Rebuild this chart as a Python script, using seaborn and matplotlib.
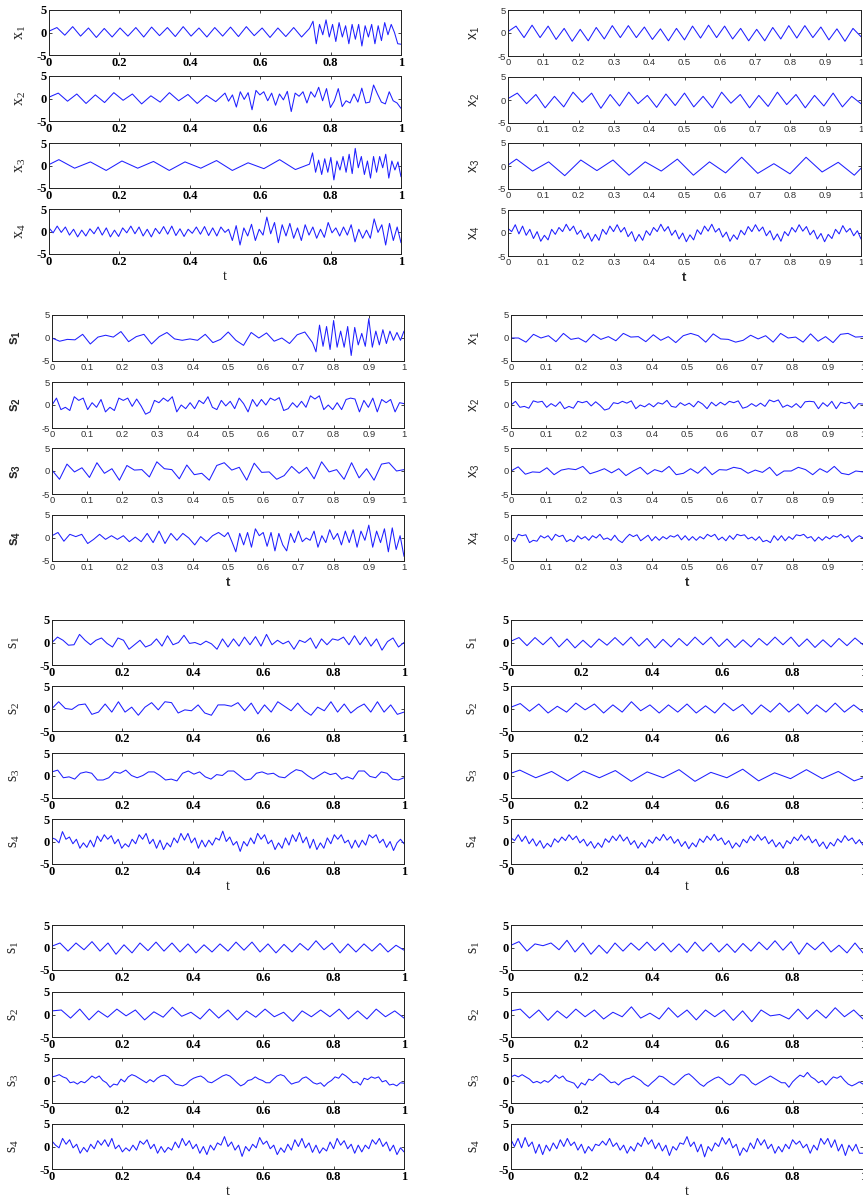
import numpy as np
import matplotlib
matplotlib.use('Agg')
import matplotlib.pyplot as plt
import seaborn as sns

sns.set_style('white')
plt.rcParams['axes.unicode_minus'] = False

# ---- signal data: values (turning points) ----
# each signal is a list of (t_start, t_end, values) segments

# panel A (top left): x1..x4
A_x1_a = [0.3, 1.1, -0.6, 1.3, -0.8, 1.0, -1.1, 0.9, -1.0, 1.0, -0.8, 1.1, -1.0, 1.2, -0.7, 1.1, -0.9,
          1.3, -0.8, 1.0, -1.0, 1.1, -0.8, 1.2, -0.9, 1.3, -0.7, 1.0, -1.1, 1.0, -0.9, 1.1, -1.0, 0.9]
A_x1_b = [2.5, -2.5, 1.8, -0.5, 2.8, -1.0, 1.8, -2.0, 2.2, -1.0, 1.5, -2.5, 1.8, -1.5, 1.8, -3.0, 1.5,
          -1.0, 1.8, -2.5, 1.5, -1.8, 2.2, -0.5, 1.8, 0.0, -2.5, -2.6]
A_x2_a = [0.3, 1.2, -0.6, 1.0, -1.1, 0.8, -0.9, 1.3, -0.4, 1.0, -1.2, 0.6, -0.8, 1.3, -0.5, 0.9, -1.1,
          0.7, -0.7, 1.2]
A_x2_b = [-0.6, 0.8, -1.9, 1.5, -0.2, 1.3, -2.5, 1.8, 0.8, 1.5, -0.5, 1.2, -1.5, 1.0, -0.3, 1.6, -2.9,
          1.2, 0.5, 1.5, -1.0, 1.5, 0.3, 2.5, -0.5, 2.2, -2.0, -0.5, 2.2, -1.8, -0.5, -1.0, 1.0, -0.8,
          2.3, -1.0, -0.8, 3.0, 1.0, -0.8, -1.2, 1.5, -0.5, -1.0, -2.2]
A_x3_a = [1.3, -0.6, 0.8, -1.1, 1.0, -0.6, 0.9, -1.1, 0.8, -0.6, 1.1, -1.1, 0.6, -0.7, 1.3, -0.9]
A_x3_b = [0.3, 2.8, -1.5, 1.2, -2.0, 1.5, -1.5, 1.8, -3.2, 1.0, -1.0, 2.0, -1.5, 2.5, -1.8, 3.8, -0.5,
          2.0, -2.0, 1.0, -2.8, 2.0, -1.5, 2.0, -0.5, 2.5, -2.8, 1.0, -1.0, 0.8, -2.5]
A_x4_a = [0.8, -0.3, 1.2, -0.2, 1.0, -0.8, 0.5, -1.2, 0.3, -1.0, 0.6, -0.5, 1.0, -0.8, 0.8, -1.2, 0.3,
          -1.1, 0.8, -0.3, 1.2, -0.5, 1.0, -1.0, 0.5, -1.2, 0.7, -0.5, 1.1, -0.6, 1.2, -0.9, 0.6, -1.1,
          0.5, -0.4, 1.0, -0.6, 1.1, -0.9, 0.8, -1.0, 1.0, -0.2]
A_x4_b = [0.5, -2.0, 1.3, -3.0, 0.8, -1.0, 1.6, -2.0, 0.5, -0.8, 3.2, -0.5, 2.0, -2.5, 1.5, -1.0, 1.8,
          -1.5, 0.8, -2.0, 1.5, -0.8, 1.0, -1.5, 0.5, -1.3, 2.0, -0.3, 0.8, -1.0, 1.0, -0.8, 1.5, -2.3,
          0.5, -1.5, 0.3, -1.5, 2.8, -0.2, 1.5, -3.0, 1.8, -2.0, 1.0, -2.5]

# panel B (top right): x1..x4
B_x1 = [0.3, 1.5, -1.0, 1.7, -1.0, 1.5, -1.4, 1.0, -1.8, 0.8, -1.7, 1.2, -1.3, 1.6, -1.0, 1.6, -1.0,
        1.3, -1.4, 0.9, -1.7, 1.0, -1.5, 1.5, -1.1, 1.7, -1.0, 1.5, -1.3, 1.0, -1.7, 0.8, -1.7, 1.2,
        -1.3, 1.6, -1.1, 1.6, -1.0, 1.3, -1.5, 0.9, -1.8, 1.0, -0.8]
B_x2 = [0.3, 1.5, -0.8, 1.2, -1.7, 0.8, -1.5, 1.7, -0.5, 1.5, -1.8, 1.2, -1.3, 1.7, -0.8, 1.0, -1.6,
        1.3, -1.2, 1.5, -1.5, 0.8, -1.7, 1.7, -0.7, 1.2, -1.7, 1.0, -1.4, 1.7, -1.0, 1.2, -1.7, 1.0,
        -1.3, 1.5, -1.5, 0.8, -0.8]
B_x3 = [1.5, -1.1, 0.9, -2.1, 1.3, -1.0, 1.3, -2.0, 0.9, -1.1, 1.5, -2.0, 0.9, -1.5, 1.9, -1.6, 0.5,
        -1.7, 1.9, -1.3, 0.8, -2.0]
B_x4 = [1.0, 0.3, 1.8, -0.2, 1.5, -0.5, 0.8, -1.2, 0.3, -1.8,
        -0.5, -1.5, 0.8, -0.3, 1.2, 0.3, 1.9, 0.5, 1.5, -0.3, 0.6,
        -1.2, 0.0, -1.8, -0.3, -1.6, 0.8, -0.3, 1.5, 0.3, 1.8,
        0.2, 1.2, -0.8, 0.3, -1.8, -0.3, -1.6, 0.5, -0.5, 1.2,
        0.3, 1.9, 0.4, 1.4, -0.5, 0.6, -1.3, 0.0, -1.9, -0.4,
        -1.5, 0.7, -0.3, 1.5, 0.4, 1.9, 0.2, 1.0, -0.9, 0.2,
        -1.8, -0.4, -1.4, 0.6, -0.4, 1.4, 0.3, 1.8, 0.4, 1.3,
        -0.6, 0.5, -1.5, -0.2, -1.8, 0.3, -0.6, 1.2, 0.2, 1.8,
        0.4, 1.4, -0.4, 0.6, -1.3, -0.1, -1.9, -0.3, -1.2, 0.8,
        -0.2, 1.6, 0.2, 1.0, -0.6, 0.5, -1.3]

# panel C (second row left): s1..s4
C_s1_a = [0.0, -0.7, -0.3, -0.4, 0.8, -1.3, 0.2, 0.6, 0.2, 1.4, -0.8, 0.3, 0.8, -1.3, 0.3, 1.2, -0.2,
          -0.5, -0.2, -0.5, 0.8, -1.0, -0.3, 1.3, -0.5, -1.6, 1.2, 0.0, 1.1, -0.7, 0.0, -1.2, 0.7, 1.3,
          -1.0]
C_s1_b = [-3.0, 2.8, -1.8, 2.5, -2.5, 3.8, -2.0, 1.5, -2.0, 2.5, -3.8, 2.3, -1.5, 1.0, -1.8, 4.2, -2.0,
          1.5, -1.5, 1.8, -1.2, 1.5, -0.5, 1.2, -0.5, 1.5]
C_s2 = [0.0, 1.5, -1.0, -0.5, -1.2, 1.8, 1.0, 1.5, -1.0, 0.5, -0.5, 1.2, -1.5, -0.5, -1.2, 1.5, 1.0,
        1.5, -0.3, 1.3, -0.2, -2.0, -1.5, 1.0, 0.5, 1.5, 0.8, 1.8, -1.5, 0.0, -0.8, 0.5, -0.8, 1.0,
        0.3, 1.8, -0.5, -1.0, 1.0, -0.2, 0.8, -0.8, 1.5, 0.3, -1.5, 1.2, -0.3, 1.2, 0.0, 1.5, 1.0,
        1.6, -1.2, -0.8, 0.5, -0.5, 0.8, -0.5, 2.0, 1.3, 2.0, -1.0, 0.0, -1.0, 0.5, -1.0, 1.2, 1.5,
        1.3, -1.5, 1.0, -0.5, 1.5, -1.5, 1.2, 0.5, 1.2, -1.5, 0.5, 0.3]
C_s3 = [0.2, -1.8, 1.5, -0.2, 0.7, -1.4, 1.8, -0.5, 0.5, -2.0, 1.2, 0.2, 0.3, -1.3, 2.0, 0.5, 0.3,
        -1.7, 1.3, -0.8, -0.5, -2.0, 1.2, 1.8, 0.2, 0.8, -2.0, 1.7, -0.3, -0.2, -1.8, -1.0, 1.0, -0.5,
        0.8, -1.7, 2.0, -0.2, 0.3, -1.8, 1.8, -1.5, 0.5, -2.0, 1.5, 1.8, 0.0, 0.3]
C_s4_a = [0.5, 1.2, -0.7, 0.8, 0.3, 0.8, -1.2, -0.3, 0.8, -0.3, 0.5, -0.3, 0.5, -0.8, 0.2, -0.8, 1.0,
          -1.0, 1.5, -1.2, 1.0, -0.5, 1.0, 0.0, -1.5, 0.3, -0.8, 0.5, 1.2, 0.3]
C_s4_b = [1.2, -0.8, -3.0, 1.0, -1.5, 1.2, -2.0, 2.0, 0.5, 1.2, -1.8, 1.2, -2.8, 1.0, -1.5, -2.8, 1.0,
          -1.0, 1.5, -0.8, 0.0, -0.5, 1.5, -2.0, 0.5, -1.0, 1.8, -0.3, 1.0, -1.5, 1.5, -1.0, 1.8, -2.0,
          1.5, -0.5, 2.8, -2.0, 1.5, -1.0, 2.0, -3.0, 2.2, -2.5, 0.5, -4.0]

# panel D (second row right): x1..x4
D_x1 = [0.0, 0.0, -0.9, 0.8, 0.0, 0.5, -0.8, 1.0, -0.3, 0.0, -0.9, 0.8, -0.3, 0.3, -0.6, 1.0, 0.2,
        0.3, -0.8, 0.7, -0.5, 0.3, -1.0, 0.5, 1.0, 0.5, -0.9, 0.9, -0.2, -0.3, -0.9, -0.5, 0.6, -0.2,
        0.5, -0.9, 1.0, 0.0, 0.2, -0.9, 0.9, -0.7, 0.3, -1.0, 0.8, 1.0, 0.2, 0.3]
D_x2 = [0.0, 0.8, -0.5, -0.3, -0.7, 0.9, 0.6, 0.8, -0.5, 0.3, -0.3, 0.7, -0.8, -0.3, -0.7, 0.8, 0.5,
        0.8, -0.2, 0.7, -0.1, -1.1, -0.8, 0.5, 0.3, 0.8, 0.4, 0.9, -0.8, 0.0, -0.4, 0.3, -0.4, 0.5,
        0.2, 1.0, -0.3, -0.5, 0.5, -0.1, 0.4, -0.4, 0.8, 0.2, -0.8, 0.6, -0.2, 0.6, 0.0, 0.8, 0.5,
        0.9, -0.7, -0.4, 0.3, -0.3, 0.4, -0.3, 1.1, 0.7, 1.1, -0.5, 0.0, -0.5, 0.3, -0.6, 0.7, 0.8,
        0.7, -0.8, 0.5, -0.3, 0.8, -0.8, 0.6, 0.3, 0.6, -0.8, 0.3, 0.2]
D_x3 = [0.0, 0.9, -0.7, -0.2, -0.3, 0.7, -0.8, 0.2, 0.5, 0.3, 1.0, -0.6, -0.1, 0.5, -0.4, 0.5, -1.0,
        0.0, 0.8, -0.7, 0.3, -0.2, 1.0, -0.8, -0.5, 0.5, -0.5, 0.9, -0.8, 0.3, 0.2, 0.8, 0.5, -0.5,
        0.2, -0.3, 0.8, -1.0, 0.0, 0.0, 0.8, 0.3, -0.8, 0.5, -0.3, 1.0, -0.5, -0.8, 0.0, -0.2]
D_x4 = [0.0, -0.8, 0.8, 0.5, 0.7, -1.0, -0.5, -0.7, 0.5, 0.0, 0.5, -0.5, 0.8, 0.3, 0.6, -0.8, -0.3,
        -0.8, 0.5, -0.2, 0.3, -0.5, 0.5, 0.0, 0.8, -0.3, 0.0, -0.5, 0.6, -0.5, -1.0, 0.0, 0.8, 0.3,
        0.7, -0.6, 0.0, 0.6, -0.6, 0.3, -0.5, 0.3, -0.2, 0.5, 0.2, 0.7, -0.4, 0.5, -0.5, 0.3, -0.5,
        0.3, -0.2, 0.8, 0.3, 0.8, -0.4, 0.2, -0.6, 0.5, -0.3, 0.8, 0.5, 0.7, -0.2, 0.2, -0.5, 0.3,
        -0.8, -0.5, -1.0, 0.5, -0.5, 0.5, -0.6, 0.3, -0.3, 0.7, 0.5, 0.8, 0.0, 0.3, -0.7, 0.2, -0.5,
        0.3, -0.2, 0.5, 0.2, 0.8, 0.0, 0.5, -0.8, 0.0, 0.5, 0.0]

# panel E (third row left): s1..s4
E_s1 = [0.0, 1.2, 0.5, -0.6, -0.5, 1.8, 0.5, -0.5, 0.5, 1.0, -0.2, -1.0, 1.0, 0.5, -1.5, -0.5, 0.5,
        -1.0, -0.5, 0.8, -0.8, 1.5, -0.5, 0.0, 1.6, -0.2, 0.0, -0.5, 0.3, -0.3, -1.5, 0.8, -1.0, 0.8,
        -0.8, 1.2, -0.5, 1.3, -0.8, 1.8, -0.5, 0.5, -0.3, 0.3, -1.5, 0.5, 0.0, 1.0, -1.3, 0.8, -0.5,
        0.8, 0.5, 1.2, -0.5, 1.5, -0.5, 1.2, -0.8, 0.8, -1.7, 0.2, 1.0, -1.0, 0.0]
E_s2 = [0.0, 1.5, 0.0, -0.2, 0.8, 1.0, -1.3, -0.8, 1.0, -0.8, 1.5, -0.8, 0.3, -1.5, 0.3, 1.3, -0.3,
        1.5, 1.3, -1.0, -0.3, -0.5, 0.8, -1.0, -1.5, 0.8, 0.8, 0.5, 1.3, -0.5, 1.2, -1.2, 0.8, -0.8,
        1.5, 0.5, -0.5, 1.2, -0.5, -1.5, 0.3, -0.5, 1.5, -0.8, 1.0, -1.0, 0.2, 1.0, -0.8, 1.5, -0.8,
        0.8, -1.3, -0.8]
E_s3 = [0.8, 1.2, -0.5, -0.3, -0.8, 0.5, 0.8, 0.5, -1.0, -1.0, -0.5, 0.8, 0.5, 1.2, 0.0, -0.5, 0.0,
        0.8, 0.8, 0.0, -1.0, -0.8, -1.2, 0.5, 1.0, 0.3, 0.8, -0.3, -0.8, 0.2, 0.0, 1.0, 1.0, 0.0,
        -1.0, -0.8, 0.5, 0.8, 0.3, 0.5, -0.3, -0.5, 0.5, 1.3, 1.0, 0.0, -0.8, 0.0, 0.8, 0.2, 0.5,
        -0.8, -0.3, -0.8, 1.0, 1.0, -0.2, -0.5, 0.8, 0.5, -0.8, -1.0, -0.5]
E_s4 = [0.8, 0.5, -0.3, 2.2, 0.5, 1.0, -0.5, 0.5, -1.5, -0.3, -1.3, 0.3, -1.2, 1.2, 0.0, 1.5, 0.5,
        1.3, -0.5, 0.5, -1.5, -0.5, -1.2, 0.5, -0.5, 1.5, 0.5, 1.8, -0.5, 0.5, -1.5, 0.3, -1.8, -0.3,
        -1.2, 0.8, -0.3, 1.8, 0.3, 1.8, -0.3, 0.8, -1.5, 0.3, -1.2, 0.3, -0.8, 0.8, 0.3, 2.3, 0.0,
        1.0, -0.8, 0.0, -2.2, 0.0, -1.0, 0.8, -0.5, 1.8, 0.5, 1.5, -0.5, 0.3, -1.8, -0.3, -1.5, 0.8,
        -0.8, 1.5, 0.0, 2.0, -0.3, 1.0, -1.5, 0.5, -1.8, -0.3, -1.5, 0.8, -0.5, 1.5, 0.5, 1.5, -0.3,
        0.3, -1.5, 0.3, -1.3, 0.3, -0.8, 1.5, 0.8, 1.5, -0.3, 0.5, -1.3, 0.0, -2.0, -0.3, 0.5, -0.5]

# panel F (third row right): s1..s4
F_s1 = [0.3, 1.1, -0.7, 1.1, -0.5, 1.2, -1.0, 0.8, -1.2, 0.5, -1.1, 0.8, -0.6, 1.1, -0.6, 1.2, -0.8,
        0.9, -1.2, 0.7, -1.0, 0.9, -0.7, 1.2, -0.5, 1.2, -0.9, 0.8, -1.1, 0.6, -1.0, 0.9, -0.6, 1.2,
        -0.5, 1.2, -0.9, 0.8, -1.1, 0.6, -1.0, 0.9, -0.7, 1.0, -0.5]
F_s2 = [0.3, 1.1, -0.6, 1.0, -1.0, 0.5, -0.8, 1.2, -0.3, 1.0, -1.0, 0.8, -0.8, 1.5, -0.5, 0.8, -1.0,
        0.8, -0.8, 1.0, -1.0, 0.6, -1.0, 1.2, -0.5, 0.9, -1.3, 0.8, -0.8, 1.2, -0.8, 1.0, -1.2, 0.8,
        -0.8, 1.2, -0.8, 0.8, -0.8]
F_s3 = [1.2, -0.5, 0.9, -1.2, 1.0, -0.5, 1.1, -1.3, 0.8, -0.5, 1.3, -1.3, 0.7, -0.5, 1.4, -1.2, 0.6,
        -0.7, 1.3, -0.7, 0.9, -1.2]
F_s4 = [0.8, 0.2, 1.5, 0.0, 1.2, -0.5, 0.6, -1.0, 0.2, -1.5,
        -0.4, -1.2, 0.6, -0.2, 1.0, 0.2, 1.5, 0.4, 1.2, -0.3, 0.5,
        -1.0, 0.0, -1.5, -0.3, -1.3, 0.6, -0.2, 1.2, 0.2, 1.5,
        0.1, 1.0, -0.7, 0.2, -1.5, -0.2, -1.3, 0.4, -0.4, 1.0,
        0.2, 1.6, 0.3, 1.1, -0.4, 0.5, -1.1, 0.0, -1.6, -0.3,
        -1.2, 0.6, -0.2, 1.2, 0.3, 1.6, 0.2, 0.8, -0.7, 0.2,
        -1.5, -0.3, -1.2, 0.5, -0.3, 1.2, 0.2, 1.5, 0.3, 1.1,
        -0.5, 0.4, -1.2, -0.2, -1.5, 0.2, -0.5, 1.0, 0.2, 1.5,
        0.3, 1.2, -0.3, 0.5, -1.1, -0.1, -1.6, -0.2, -1.0, 0.6,
        -0.2, 1.3, 0.2, 0.8, -0.5, 0.4, -0.8]

# panel G (bottom row left): s1..s4
G_s1 = [0.3, 1.0, -0.8, 1.0, -0.5, 1.3, -0.8, 1.0, -1.5, 0.6, -1.2, 1.0, -0.7, 1.2, -0.8, 1.0, -1.0,
        0.8, -1.2, 0.6, -1.0, 0.8, -0.8, 1.2, -0.6, 1.2, -1.0, 0.8, -1.2, 0.7, -1.0, 0.9, -0.6, 1.5,
        -0.5, 1.0, -1.2, 0.8, -1.0, 0.8, -0.8, 0.9, -1.0, 0.5, -0.6]
G_s2 = [0.8, 1.0, -0.8, 1.2, -1.2, 0.8, -0.6, 1.2, -0.3, 1.0, -1.2, 0.6, -0.6, 1.6, -0.4, 0.5, -1.0,
        1.2, -0.8, 1.0, -1.2, 0.8, -0.6, 1.2, -0.5, 0.5, -1.5, 0.8, -0.5, 1.0, -0.5, 1.2, -1.0, 0.8,
        -1.0, 1.2, -0.5, 0.8, -0.8]
G_s3 = [0.8, 1.0, 1.3, 0.8, 0.5, -0.5, -0.3, -0.8, -0.2, -0.5, 0.2, 1.0, 0.5, 1.0, 0.0, -0.5, -1.5,
        -0.8, -1.0, 0.3, -0.3, 0.8, 1.3, 1.0, 0.5, 0.0, -0.5, 0.2, -0.3, 0.5, 1.0, 1.2, 0.8, 0.0,
        -0.8, -1.0, -1.2, -0.8, 0.0, 0.5, 0.8, 1.0, 0.5, -0.3, -0.5, 0.0, 0.5, 1.0, 1.3, 1.0, 0.3,
        -0.5, -1.2, -0.8, 0.0, 0.2, 0.8, 0.3, 0.0, -0.5, -0.5, 0.3, 1.0, 1.3, 1.0, 0.0, -0.8, -0.5,
        -0.3, 0.5, 0.8, 0.2, -0.5, -0.8, -0.5, -1.3, -0.5, 0.0, 0.8, 0.5, 1.5, 1.0, 0.3, -0.5, -0.3,
        -1.0, 0.5, 0.2, 0.8, 0.5, 0.8, -0.3, 0.0, -1.0, -0.8, -1.2, -0.5, -0.6]
G_s4 = [1.2, 0.3, -0.3, 1.8, 0.5, 1.5, -0.3, 0.5, -1.5, -0.2, -1.2, 0.5, -0.5, 1.3, 0.3, 1.5, 0.0,
        1.8, -0.5, 0.3, -1.2, -0.3, -1.0, 0.3, -0.8, 1.2, 0.5, 1.5, -0.5, 0.5, -1.5, 0.0, -1.3, -0.2,
        -0.8, 1.0, -0.3, 1.8, 0.2, 1.3, -0.5, 0.5, -1.5, 0.0, -1.8, 0.3, -0.8, 0.8, 0.3, 2.2, 0.0,
        1.0, -0.8, 0.3, -2.2, 0.0, -1.0, 0.5, -0.3, 2.0, 0.5, 1.2, -0.5, 0.3, -1.8, -0.3, -1.3, 0.5,
        -0.8, 1.5, 0.0, 1.8, -0.3, 0.8, -1.3, 0.3, -1.5, -0.3, -1.0, 1.0, -0.5, 1.8, 0.3, 1.3, -0.5,
        0.5, -1.5, 0.3, -1.2, 0.3, -0.5, 1.5, 0.5, 1.8, 0.0, 1.0, -1.0, 0.3, -1.8, -0.3, -1.2]

# panel H (bottom row right): s1..s4
H_s1 = [0.5, 1.3, -0.8, 0.8, 0.4, 1.0, -0.5, 1.6, -1.0, 1.0, -1.5, 0.5, -1.3, 1.0, -0.8, 1.0, -0.6,
        1.2, -0.7, 1.0, -1.0, 0.8, -1.1, 1.2, -0.8, 1.0, -1.0, 0.8, -1.1, 0.9, -0.8, 1.2, -0.5, 1.5,
        -0.6, 1.3, -1.5, 1.0, -0.5, 1.2, -1.0, 0.5, -1.2, 1.0, -1.2]
H_s2 = [0.8, 1.2, -0.8, 1.0, -1.3, 0.8, -0.8, 1.2, -0.5, 1.0, -1.0, 0.5, -0.5, 1.7, -0.8, 0.3, -1.0,
        1.5, -0.6, 1.0, -1.2, 1.0, -0.5, 1.0, -1.3, 0.8, -1.6, 1.0, -0.3, 0.0, -1.0, 1.2, -1.0, 1.0,
        -0.8, 1.5, -0.5, 1.0, -1.0]
H_s3 = [0.8, 1.2, 0.8, 1.3, 0.8, 0.3, -0.5, -0.2, -0.6, 0.0, -0.4, 0.3, 1.2, 0.5, 1.0, 0.0, -0.3,
        -0.6, -1.7, -0.5, -1.0, 0.3, 0.0, 0.8, 1.5, 1.0, 0.2, -0.5, -0.3, -1.0, -0.2, 0.3, 0.5, 1.0,
        0.5, 0.0, -0.8, -1.3, -0.5, 0.2, 1.0, 0.8, 0.2, -0.5, -1.0, -0.3, 0.5, 1.2, 1.5, 0.8, 0.0,
        -0.8, -1.3, -0.5, 0.0, 0.5, 0.8, 0.3, -0.5, -1.0, -0.5, 0.5, 1.3, 1.2, 0.5, -0.5, -1.0, -0.5,
        0.0, 0.5, 1.0, 0.5, 0.0, -0.5, -0.5, -1.5, -0.3, 0.5, 1.2, 0.8, 1.8, 0.8, 0.3, -0.5, 0.0,
        -1.0, 0.0, 0.8, 0.5, 1.0, 0.0, -0.8, -1.2, -0.8, -0.3, -0.8]
H_s4 = [1.5, 0.0, 1.8, -0.3, 2.0, 0.0, 1.0, -1.5, 0.5, -1.8, 0.3, -1.0, 0.8, -0.5, 1.5, 0.0, 1.8, 0.2,
        1.0, -0.8, 0.5, -1.5, 0.0, -1.0, 0.5, 0.2, 1.2, 0.3, 1.8, 0.0, 0.8, -0.8, 0.3, -1.5, 0.0, -1.0,
        0.8, 0.0, 2.0, 0.5, 1.5, -0.5, 0.8, -1.0, 0.3, -2.0, 0.0, -0.8, 0.8, 0.5, 2.2, 0.0, 1.0, -1.2,
        0.5, -2.3, 0.0, -1.0, 0.8, 0.0, 2.0, 0.5, 1.8, -0.3, 0.5, -2.0, -0.3, -1.2, 0.8, -0.5, 1.8,
        0.3, 1.5, -0.5, 0.5, -1.5, 0.0, -1.2, 0.5, -0.5, 1.5, 0.5, 1.2, -0.3, 0.5, -1.5, 0.3, -0.8,
        1.8, 0.5, 1.8, -0.2, 1.5, -1.0, 0.5, -2.0, 0.3, -1.0, 0.5, -1.5, -1.5]

SIGNALS = {
    'A': [[(0, 0.74, A_x1_a), (0.75, 1, A_x1_b)],
          [(0, 0.5, A_x2_a), (0.51, 1, A_x2_b)],
          [(0, 0, [0.2]), (0.028, 0.70, A_x3_a), (0.74, 1, A_x3_b)],
          [(0, 0.5, A_x4_a), (0.51, 1, A_x4_b)]],
    'B': [[(0, 1, B_x1)], [(0, 1, B_x2)],
          [(0, 0, [0.2]), (0.024, 0.981, B_x3), (1, 1, [-0.5])], [(0, 1, B_x4)]],
    'C': [[(0, 0.74, C_s1_a), (0.75, 1, C_s1_b)], [(0, 1, C_s2)], [(0, 1, C_s3)],
          [(0, 0.49, C_s4_a), (0.5, 1, C_s4_b)]],
    'D': [[(0, 1, D_x1)], [(0, 1, D_x2)], [(0, 1, D_x3)], [(0, 1, D_x4)]],
    'E': [[(0, 1, E_s1)], [(0, 1, E_s2)], [(0, 1, E_s3)], [(0, 1, E_s4)]],
    'F': [[(0, 1, F_s1)], [(0, 1, F_s2)],
          [(0, 0, [0.5]), (0.025, 0.975, F_s3), (1, 1, [-0.5])], [(0, 1, F_s4)]],
    'G': [[(0, 1, G_s1)], [(0, 1, G_s2)], [(0, 1, G_s3)], [(0, 1, G_s4)]],
    'H': [[(0, 1, H_s1)], [(0, 1, H_s2)], [(0, 1, H_s3)], [(0, 1, H_s4)]],
}

# ---- layout (pixels) ----
W, H = 863, 1203
PANELS = [
    dict(key='A', x0=49, x1=401, tops=[10, 76, 143, 209], h=45, kind='serif', step=0.2, var='x', lab=21),
    dict(key='B', x0=508, x1=861, tops=[10, 77, 143, 210], h=46, kind='sans', step=0.1, var='x', lab=26),
    dict(key='C', x0=52, x1=404, tops=[315, 382, 448, 515], h=46, kind='sansbold', step=0.1, var='s', lab=29),
    dict(key='D', x0=511, x1=863, tops=[315, 382, 448, 515], h=46, kind='sans', step=0.1, var='x', lab=29),
    dict(key='E', x0=52, x1=404, tops=[620, 686, 753, 819], h=45, kind='serif', step=0.2, var='s', lab=30),
    dict(key='F', x0=511, x1=863, tops=[620, 686, 753, 819], h=45, kind='serif', step=0.2, var='s', lab=31),
    dict(key='G', x0=52, x1=404, tops=[925, 992, 1058, 1124], h=45, kind='serif', step=0.2, var='s', lab=31),
    dict(key='H', x0=511, x1=863, tops=[925, 992, 1058, 1124], h=45, kind='serif', step=0.2, var='s', lab=29),
]

SERIF = 'Liberation Serif'
SANS = 'Liberation Sans'
LINE_COLOR = '#1f1fff'


def build(segments):
    t, y = [], []
    for t0, t1, vals in segments:
        t.extend(np.linspace(t0, t1, len(vals)))
        y.extend(vals)
    return np.array(t), np.array(y)


def style_axes(ax, p, i, last):
    ax.set_xlim(0, 1)
    ax.set_ylim(-5, 5)
    if p['step'] == 0.2:
        ticks = [0, 0.2, 0.4, 0.6, 0.8, 1]
        labels = ['0', '0.2', '0.4', '0.6', '0.8', '1']
    else:
        ticks = [0, 0.1, 0.2, 0.3, 0.4, 0.5, 0.6, 0.7, 0.8, 0.9, 1]
        labels = ['0', '0.1', '0.2', '0.3', '0.4', '0.5', '0.6', '0.7', '0.8', '0.9', '1']
    ax.set_xticks(ticks)
    ax.set_yticks([-5, 0, 5])
    if p['kind'] == 'serif':
        tick_font = dict(family=SERIF, size=9, weight='bold', color='black')
        lab_font = dict(family=SERIF, size=11.5, weight='normal')
        t_font = dict(family=SERIF, size=10.5, weight='normal')
    else:
        tick_font = dict(family=SANS, size=6.8, weight='normal', color='#333333')
        lab_font = dict(family=SANS, size=10, weight='bold' if p['kind'] == 'sansbold' else 'normal')
        t_font = dict(family=SANS, size=9.5, weight='bold')
    ax.set_xticklabels(labels, **tick_font)
    ax.set_yticklabels(['-5', '0', '5'], **tick_font)
    ax.tick_params(direction='in', length=2.2, width=0.6, top=True, right=True,
                   bottom=True, left=True, pad=1.5)
    for sp in ax.spines.values():
        sp.set_linewidth(0.7)
        sp.set_color('#222222')
    w_px = p['x1'] - p['x0']
    ax.set_ylabel(r'$\mathregular{%s_%d}$' % (p['var'], i + 1), **lab_font)
    ax.yaxis.set_label_coords(-p['lab'] / w_px, 0.5)
    if last:
        ax.set_xlabel('t', **t_font)
        ax.xaxis.set_label_coords(0.5, -16.0 / p['h'])
    else:
        ax.set_xlabel('')


fig = plt.figure(figsize=(W / 100, H / 100), dpi=100)
fig.patch.set_facecolor('white')

for p in PANELS:
    for i, top in enumerate(p['tops']):
        rect = [p['x0'] / W, 1 - (top + p['h']) / H, (p['x1'] - p['x0']) / W, p['h'] / H]
        ax = fig.add_axes(rect)
        t, y = build(SIGNALS[p['key']][i])
        sns.lineplot(x=t, y=y, ax=ax, color=LINE_COLOR, linewidth=0.75,
                     sort=False, estimator=None, legend=False)
        style_axes(ax, p, i, i == 3)

fig.savefig('out.png', dpi=100, facecolor='white')
